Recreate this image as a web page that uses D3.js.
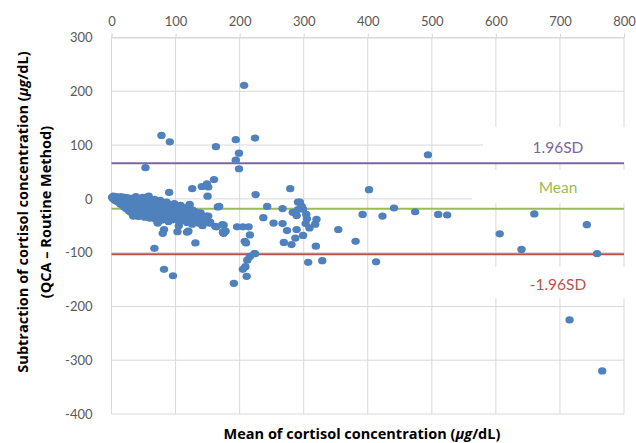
<!DOCTYPE html>
<html>
<head>
<meta charset="utf-8">
<script src="https://cdn.jsdelivr.net/npm/d3@7"></script>
<style>
  body { margin: 0; background: #fff; }
  svg { display: block; font-family: "Open Sans", Lato, sans-serif; }
</style>
</head>
<body>
<svg id="chart" width="636" height="443"></svg>
<script>
// ** DATA *****************************************
// mean of the two methods (x) and QCA - routine difference (y)
const meanConc = [
  1, 2, 3, 4, 5, 6, 7, 8, 9, 10, 11, 12, 13, 14, 15, 16, 17, 18, 19, 20,
  21, 22, 23, 24, 25, 26, 27, 28, 29, 30, 31, 32, 33, 34, 35, 36, 37, 38, 39, 40,
  41, 42, 43, 44, 45, 46, 47, 48, 49, 50, 51, 52, 53, 54, 55, 56, 57, 58, 59, 60,
  61, 62, 63, 64, 65, 66, 67, 68, 69, 70, 71, 72, 73, 74, 75, 76, 77, 78, 79, 80,
  82, 83, 84, 85, 86, 88, 89, 90, 91, 92, 94, 95, 96, 98, 99, 100, 102, 103, 104, 106,
  107, 108, 110, 112, 113, 115, 117, 118, 120, 122, 124, 126, 128, 130, 133, 136, 139, 142,
  78, 91, 53, 163, 194, 224, 199, 194, 199, 207, 160, 149, 141, 151, 126, 90, 150, 225,
  279, 291, 122, 166, 243, 267, 283, 289, 291, 134, 137, 151, 237, 153, 253, 267, 164, 175,
  196, 205, 214, 178, 175, 216, 274, 289, 287, 281, 269, 208, 210, 223, 212, 209, 205, 211,
  131, 120, 118, 103, 82, 80, 67, 82, 96, 105, 72, 34, 191, 294, 297, 299, 304, 305, 303,
  299, 309, 318, 320, 319, 307, 329, 354, 494, 381, 392, 402, 423, 413, 441, 474, 510, 524,
  606, 640, 660, 742, 758, 715, 766, 216, 224, 154, 162, 173, 177, 174, 168, 148, 125, 145
];
const diffConc = [
  3, 1, 5, -1, 2, -3, 4, 0, -5, 3, -2, -7, 1, -10, 4, -4, -12, 0, -8, -15,
  3, -3, -18, -6, -11, 2, -22, -14, -5, -25, -9, 1, -17, -30, -3, -12, -21, 4, -27, -8,
  -15, -33, 0, -19, -24, -6, -11, -29, 3, -16, -21, -34, -2, -9, -26, -13, -31, 5, -19, -36,
  -4, -23, -10, -28, -15, -33, -1, -20, -38, -7, -25, -12, -30, -17, -35, -3, -22, -40, -9, -27,
  -14, -32, -19, -37, -6, -24, -42, -11, -29, -16, -34, -21, -39, -9, -26, -31, -14, -36, -20, -43,
  -24, -12, -29, -38, -18, -33, -25, -44, -15, -36, -28, -47, -22, -39, -31, -45, -26, -50,
  118, 106, 58, 97, 110, 113, 85, 72, 56, 211, 36, 28, 23, 22, 19, 12, 5, 8,
  19, -6, -10, -15, -14, -18, -25, -31, -20, -26, -33, -32, -35, -45, -45, -46, -52, -49,
  -52, -52, -52, -60, -64, -67, -59, -57, -73, -85, -81, -79, -82, -102, -114, -126, -131, -144,
  -82, -60, -62, -61, -57, -64, -92, -131, -143, -50, -45, -32, -157, -6, -14, -19, -29, -37, -46,
  -68, -54, -47, -38, -88, -118, -115, -57, 82, -79, -29, 17, -32, -117, -17, -24, -29, -30,
  -65, -94, -28, -48, -102, -225, -320, -107, -102, -43, -51, -48, -60, -62, -14, -32, -20, -40
];

const xTicks = [0, 100, 200, 300, 400, 500, 600, 700, 800];
const yTicks = [300, 200, 100, 0, -100, -200, -300, -400];

// limits of agreement
const refNames = ["1.96SD", "Mean", "-1.96SD"];
const refValues = [66, -18.5, -103];

// ** SETUP *****************************************
const svg = d3.select("#chart");
const MARGIN = { LEFT: 111.5, RIGHT: 12, TOP: 37.5, BOTTOM: 29 };
const width = 636, height = 443;

const xScale = d3.scaleLinear()
    .domain([0, 800])
    .range([MARGIN.LEFT, width - MARGIN.RIGHT]);

const yScale = d3.scaleLinear()
    .domain([-400, 300])
    .range([height - MARGIN.BOTTOM, MARGIN.TOP]);

const refColours = ["#8064A2", "#9BBB59", "#C0504D"];
const gridColour = "#d9d9d9";
const labelColour = "#595959";

// ** GRID *****************************************
const grid = svg.append("g").attr("class", "grid");

grid.selectAll(".vgrid")
    .data(xTicks).enter()
    .append("line")
    .attr("x1", d => xScale(d)).attr("x2", d => xScale(d))
    .attr("y1", yScale(300)).attr("y2", yScale(-400))
    .attr("stroke", gridColour);

grid.selectAll(".hgrid")
    .data(yTicks).enter()
    .append("line")
    .attr("x1", xScale(0)).attr("x2", xScale(800))
    .attr("y1", d => yScale(d)).attr("y2", d => yScale(d))
    .attr("stroke", gridColour);

// ** AXES *****************************************
const xAxis = d3.axisTop(xScale)
    .tickValues(xTicks)
    .tickSize(4)
    .tickPadding(8);

const xAxisG = svg.append("g")
    .attr("transform", "translate(0," + yScale(300) + ")")
    .call(xAxis);
xAxisG.select(".domain").attr("stroke", gridColour);
xAxisG.selectAll(".tick line").attr("stroke", gridColour);
xAxisG.selectAll(".tick text")
    .attr("fill", labelColour)
    .style("font-family", "Lato, sans-serif")
    .style("font-size", "13px");

const yAxis = d3.axisLeft(yScale)
    .tickValues(yTicks)
    .tickFormat(d => String(d))
    .tickSize(0)
    .tickPadding(19);

const yAxisG = svg.append("g")
    .attr("transform", "translate(" + xScale(0) + ",0)")
    .call(yAxis);
yAxisG.select(".domain").remove();
yAxisG.selectAll(".tick text")
    .attr("fill", labelColour)
    .style("font-family", "Lato, sans-serif")
    .style("font-size", "13px");

// ** LABEL BOXES (white text boxes cover the grid) ***********
const boxes = [
    { x: 483, y1: 127, y2: 163 },
    { x: 472, y1: 170, y2: 203 },
    { x: 470, y1: 267, y2: 298 }
];
svg.selectAll(".labelBox")
    .data(boxes).enter()
    .append("rect")
    .attr("x", d => d.x)
    .attr("y", d => d.y1)
    .attr("width", d => width - d.x)
    .attr("height", d => d.y2 - d.y1)
    .attr("fill", "#fff");

// ** REFERENCE LINES *****************************************
svg.selectAll(".refLine")
    .data(refValues).enter()
    .append("line")
    .attr("x1", xScale(0)).attr("x2", xScale(800))
    .attr("y1", d => yScale(d)).attr("y2", d => yScale(d))
    .attr("stroke", (d, i) => refColours[i])
    .attr("stroke-width", 2);

const labelY = [153, 193, 290];
svg.selectAll(".refLabel")
    .data(refNames).enter()
    .append("text")
    .attr("x", 558)
    .attr("y", (d, i) => labelY[i])
    .attr("text-anchor", "middle")
    .attr("fill", (d, i) => refColours[i])
    .style("font-family", "Lato, sans-serif")
    .style("font-size", "15.5px")
    .text(d => d);

// ** DATA POINTS *****************************************
svg.append("g")
    .selectAll("ellipse")
    .data(meanConc)
    .enter()
    .append("ellipse")
    .attr("cx", d => xScale(d))
    .attr("cy", (d, i) => yScale(diffConc[i]))
    .attr("rx", 4.2)
    .attr("ry", 3.6)
    .attr("fill", "#4F81BD");

// ** AXIS TITLES *****************************************
const xTitle = svg.append("text")
    .attr("x", 362)
    .attr("y", 439)
    .attr("text-anchor", "middle")
    .style("font-size", "14.5px")
    .style("font-weight", "bold")
    .attr("fill", "#000");
xTitle.append("tspan").text("Mean of cortisol concentration (");
xTitle.append("tspan").style("font-style", "italic").text("μg");
xTitle.append("tspan").text("/dL)");

const yTitle = svg.append("text")
    .attr("transform", "translate(28,212) rotate(-90)")
    .attr("text-anchor", "middle")
    .style("font-size", "14.5px")
    .style("font-weight", "bold")
    .attr("fill", "#000");
yTitle.append("tspan").attr("x", 0).attr("y", 0).text("Subtraction of cortisol concentration (");
yTitle.append("tspan").style("font-style", "italic").text("μg");
yTitle.append("tspan").text("/dL)");
yTitle.append("tspan").attr("x", 0).attr("y", 23).text("(QCA – Routine Method)");
</script>
</body>
</html>
